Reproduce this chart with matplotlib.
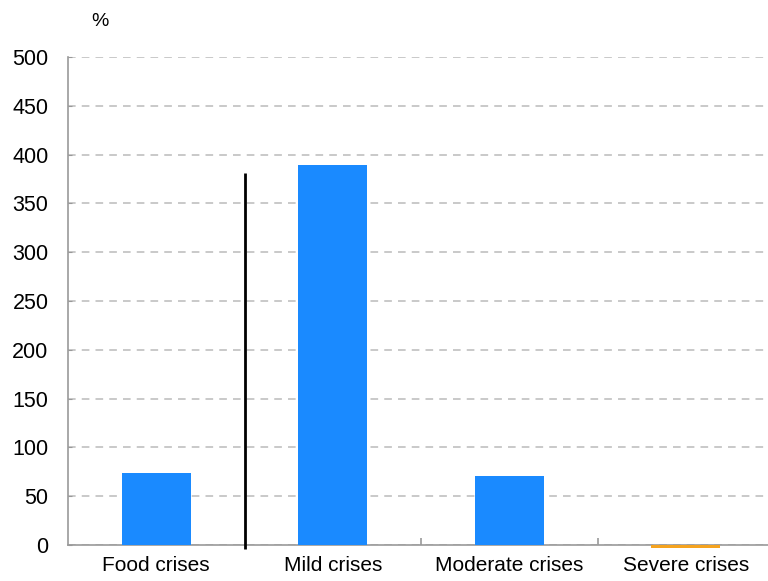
import matplotlib
matplotlib.use("Agg")
import matplotlib.pyplot as plt
from matplotlib.ticker import FixedLocator

categories = ["Food crises", "Mild crises", "Moderate crises", "Severe crises"]
values = [74, 389, 71, -3]
bar_colors = ["#1a8aff", "#1a8aff", "#1a8aff", "#f5a31f"]
yticks = [0, 50, 100, 150, 200, 250, 300, 350, 400, 450, 500]
divider_top = 381

plt.rcParams['font.family'] = ['Liberation Sans', 'DejaVu Sans']

fig = plt.figure(figsize=(7.68, 5.81), dpi=100)
ax = fig.add_axes([68/768, 1-545/581, 706/768, 488/581])

x = list(range(len(categories)))
ax.bar(x, values, width=0.39, color=bar_colors, zorder=3, clip_on=False)
ax.plot([0.5, 0.5], [-4, divider_top], color="black", lw=2, zorder=4, clip_on=False, solid_capstyle='butt')

ax.set_xlim(-0.5, 3.5)
ax.set_ylim(0, 500)
ax.set_yticks(yticks)
ax.set_xticks(x)
ax.set_xticklabels(categories, fontsize=15)
ax.xaxis.set_minor_locator(FixedLocator([1.5, 2.5]))
ax.tick_params(axis='x', which='major', length=0, pad=8)
ax.tick_params(axis='x', which='minor', length=5, direction='in', color='#999999', width=1.2)
ax.tick_params(axis='y', length=3, direction='in', color='#999999', labelsize=15.5, pad=14)

ax.grid(axis='y', linestyle=(0, (5, 4)), color='#bbbbbb', lw=1.1, zorder=0)
for s in ['top', 'right']:
    ax.spines[s].set_visible(False)
for s in ['left', 'bottom']:
    ax.spines[s].set_color('#999999')
    ax.spines[s].set_linewidth(1.2)

fig.text(100/768, 1-22/581, "%", fontsize=14, ha='center', va='center')

fig.savefig("out.png", dpi=100)
